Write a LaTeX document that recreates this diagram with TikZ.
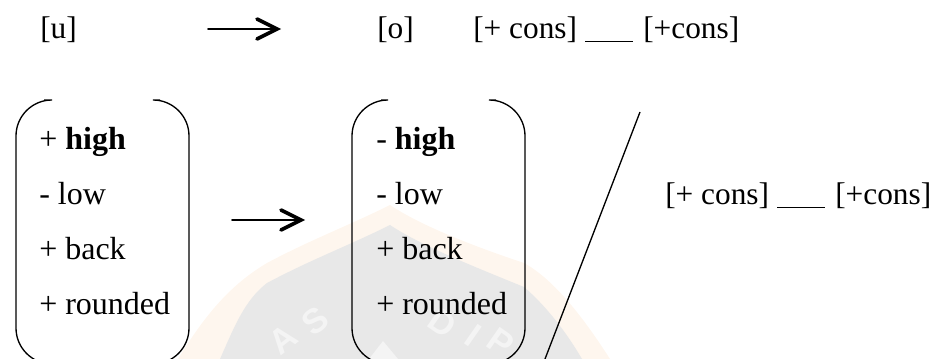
\documentclass[tikz,border=0pt]{standalone}
\usepackage{fontspec}
\setmainfont{Liberation Serif}
\newfontfamily\marksans{Liberation Sans}
\usetikzlibrary{calc,arrows.meta,positioning}
\definecolor{markorange}{HTML}{FEF6EE}
\definecolor{markgray}{HTML}{E8E8E8}
\definecolor{markpale}{HTML}{F4F4F4}
\tikzset{
  feature/.style={inner sep=0pt, anchor=base west, font=\fontsize{24}{24}\selectfont},
  rulepart/.style={inner sep=0pt, anchor=base west, font=\fontsize{23.5}{24}\selectfont},
  bracket/.style={line width=1pt, rounded corners=27},
  rewrite/.style={line width=1.3pt, line cap=round},
  barb/.style={line width=2.7pt, line cap=round},
  slash/.style={line width=1pt},
  markletter/.style={inner sep=0pt, text=markpale, font=\marksans\bfseries\fontsize{26}{26}\selectfont}
}
\begin{document}
\begin{tikzpicture}[x=0.75pt,y=-0.75pt]
	\useasboundingbox (0,0) rectangle (934,359);

	%% Watermark
	\fill[markorange] (178,359) .. controls (205,315) and (230,285) .. (267,263) .. controls (310,240) and (350,225) .. (390,205) .. controls (420,225) and (470,245) .. (524,263) .. controls (555,280) and (585,320) .. (610,359) -- cycle;
	\fill[markgray] (220,359) .. controls (235,325) and (245,300) .. (267,283) .. controls (310,260) and (350,245) .. (390,225) .. controls (420,245) and (470,265) .. (524,287) .. controls (545,305) and (565,330) .. (582,359) -- cycle;
	\fill[markpale] (383,341) -- (369,359) -- (398,359) -- cycle;
	\foreach \x/\y/\r/\t in {283/339/38/A,315/321/38/S,443/323/-35/D,473/335/-35/I,501/342/-35/P}
	{
	  \node[markletter,rotate=\r] (mark\t) at (\x,\y) {\t};
	}

	%% Top row
	\node[rulepart] (u) at (40,39) {[u]};
	\node[rulepart] (o) at (377,39) {[o]};
	\node[rulepart] (envA) at (473,39) {[+ cons]};
	\node[rulepart] (gapA) at (585,39) {\underline{\hspace{36pt}}};
	\node[rulepart] (consA) at (643,39) {[+cons]};
	\coordinate (a1) at (208,29);
	\coordinate (a2) at (277,29);
	\draw[rewrite] (a1) -- (a2);
	\draw[barb] ($(a2)+(-20,-10)$) -- (a2) -- ($(a2)+(-20,10)$);

	%% Left matrix
	\foreach \y/\t [count=\i] in {149.5/{+ \textbf{high}},204.5/{- low},259.5/{+ back},314.5/{+ rounded}}
	{
	  \node[feature] (l\i) at (39,\y) {\t};
	}
	\draw[bracket] (44,100) -- (16,100) -- (16,364) -- (44,364);
	\draw[bracket] (160,100) -- (189,100) -- (189,364) -- (160,364);

	%% Right matrix
	\foreach \y/\t [count=\i] in {149.5/{- \textbf{high}},204.5/{- low},259.5/{+ back},314.5/{+ rounded}}
	{
	  \node[feature] (r\i) at (376,\y) {\t};
	}
	\draw[bracket] (381,100) -- (352,100) -- (352,364) -- (381,364);
	\draw[bracket] (496,100) -- (525,100) -- (525,364) -- (496,364);

	%% Middle arrow, slash and context
	\coordinate (a3) at (232,220);
	\coordinate (a4) at (301,220);
	\draw[rewrite] (a3) -- (a4);
	\draw[barb] ($(a4)+(-20,-10)$) -- (a4) -- ($(a4)+(-20,10)$);
	\coordinate (s1) at (640,112);
	\coordinate (s2) at (545,359);
	\draw[slash] (s1) -- (s2);
	\node[rulepart] (envB) at (665,205) {[+ cons]};
	\node[rulepart] (gapB) at (777,205) {\underline{\hspace{36pt}}};
	\node[rulepart] (consB) at (835,205) {[+cons]};
\end{tikzpicture}
\end{document}
